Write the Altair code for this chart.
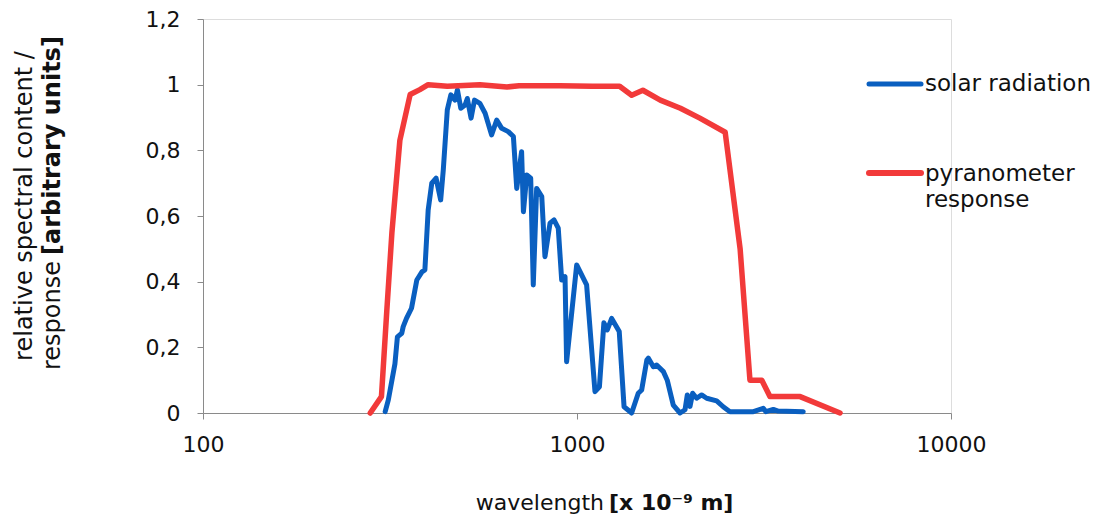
import altair as alt
import pandas as pd

# ---- data ----
solar_wl = [307, 313, 326, 331, 340, 343, 350, 361, 373, 385, 392, 400, 409, 420,
            432, 439, 450, 460, 472, 479, 489, 502, 509, 521, 532, 550, 568, 591,
            610, 629, 655, 676, 690, 711, 719, 734, 752, 764, 780, 805, 821, 847,
            868, 891, 910, 929, 938, 998, 1061, 1117, 1148, 1180, 1205, 1238, 1297,
            1336, 1400, 1458, 1489, 1537, 1552, 1600, 1633, 1702, 1743, 1809, 1886,
            1945, 1972, 2005, 2038, 2089, 2154, 2222, 2363, 2460, 2564, 2961, 3148,
            3200, 3349, 3450, 4027]
solar_val = [0.004, 0.04, 0.15, 0.232, 0.243, 0.263, 0.288, 0.319, 0.405, 0.43,
             0.436, 0.618, 0.70, 0.715, 0.649, 0.74, 0.923, 0.969, 0.953, 0.984,
             0.928, 0.938, 0.958, 0.898, 0.953, 0.943, 0.913, 0.847, 0.892, 0.867,
             0.857, 0.842, 0.684, 0.796, 0.613, 0.725, 0.715, 0.39, 0.684, 0.659,
             0.476, 0.578, 0.588, 0.563, 0.405, 0.415, 0.156, 0.451, 0.39, 0.065,
             0.08, 0.275, 0.253, 0.288, 0.248, 0.019, 0.0, 0.06, 0.07, 0.161, 0.167,
             0.141, 0.146, 0.126, 0.10, 0.024, 0.0, 0.01, 0.055, 0.02, 0.06, 0.045,
             0.055, 0.045, 0.037, 0.019, 0.004, 0.004, 0.014, 0.004, 0.011, 0.006,
             0.004]

pyr_wl = [280, 300, 310, 320, 336, 358, 380, 400, 450, 550, 650, 700, 900, 1100,
          1300, 1400, 1500, 1670, 1890, 2130, 2490, 2730, 2900, 3120, 3280, 3950, 5050]
pyr_val = [0.0, 0.05, 0.31, 0.55, 0.83, 0.97, 0.985, 1.0, 0.995, 1.0, 0.993, 0.997,
           0.997, 0.995, 0.995, 0.968, 0.983, 0.953, 0.928, 0.898, 0.855, 0.5, 0.1,
           0.1, 0.05, 0.05, 0.0]

series_names = ["solar radiation", "pyranometer response"]
series_colors = ["#0a5fc0", "#f23a3a"]
x_ticks = [100, 1000, 10000]
y_ticks = [0, 0.2, 0.4, 0.6, 0.8, 1.0, 1.2]

FONT = "DejaVu Sans"
GREY = "#8a8a8a"

solar_df = pd.DataFrame({"wl": solar_wl, "val": solar_val, "series": series_names[0]})
pyr_df = pd.DataFrame({"wl": pyr_wl, "val": pyr_val, "series": series_names[1]})

x_enc = alt.X("wl:Q",
              scale=alt.Scale(type="log", domain=[100, 10000], nice=False),
              axis=alt.Axis(values=x_ticks, format="d", title=None, grid=False,
                            labelFontSize=22, labelPadding=15, tickSize=6,
                            labelFlush=False, labelOverlap=False,
                            labelColor="#111111", labelFont=FONT,
                            domainColor=GREY, tickColor=GREY))
y_enc = alt.Y("val:Q",
              scale=alt.Scale(domain=[0, 1.2], nice=False),
              axis=alt.Axis(values=y_ticks, title=None, grid=False,
                            labelExpr="replace(format(datum.value, '~g'), '.', ',')",
                            labelFontSize=22, labelPadding=17, tickSize=6,
                            labelFlush=False, labelOverlap=False,
                            labelColor="#111111", labelFont=FONT,
                            domainColor=GREY, tickColor=GREY))

solar_line = alt.Chart(solar_df).mark_line(
    color=series_colors[0], strokeWidth=5, strokeJoin="round", strokeCap="round"
).encode(x=x_enc, y=y_enc)

pyr_line = alt.Chart(pyr_df).mark_line(
    color=series_colors[1], strokeWidth=5.5, strokeJoin="round", strokeCap="round"
).encode(x=x_enc, y=y_enc)


def one(txt):
    return pd.DataFrame({"t": [txt]})


def text_layer(txt, x, y, size=22, bold=False, align="left", angle=0):
    kw = dict(align=align, baseline="middle", fontSize=size, font=FONT,
              fontWeight="bold" if bold else "normal", color="#111111")
    if angle:
        kw["angle"] = angle
    return alt.Chart(one(txt)).mark_text(**kw).encode(
        x=alt.value(x), y=alt.value(y), text="t:N")


# legend (custom, to match the reference layout)
leg_solar_sym = alt.Chart(one(series_names[0])).mark_rule(
    color=series_colors[0], strokeWidth=5, strokeCap="round"
).encode(x=alt.value(666), x2=alt.value(718), y=alt.value(65))
leg_pyr_sym = alt.Chart(one(series_names[1])).mark_rule(
    color=series_colors[1], strokeWidth=6, strokeCap="round"
).encode(x=alt.value(666), x2=alt.value(718), y=alt.value(154))
leg_solar_txt = text_layer("solar radiation", 722, 65, size=23)
leg_pyr_txt1 = text_layer("pyranometer", 722, 155, size=23)
leg_pyr_txt2 = text_layer("response", 722, 181, size=23)

# axis titles
xt1 = text_layer("wavelength", 401, 484, align="right")
xt2 = text_layer("[x 10\u207b\u2079 m]", 406, 484, bold=True)
yt1 = text_layer("relative spectral content /", -178, 187, size=24, align="center", angle=270)
yt2 = text_layer("response", -150, 242, size=24, align="right", angle=270)
yt3 = text_layer("[arbitrary units]", -150, 236, size=24, bold=True, angle=270)

chart = alt.layer(
    solar_line, pyr_line,
    leg_solar_sym, leg_pyr_sym, leg_solar_txt, leg_pyr_txt1, leg_pyr_txt2,
    xt1, xt2, yt1, yt2, yt3,
).properties(
    width=748, height=394,
    padding={"left": 195, "top": 11, "right": 144, "bottom": 104},
    autosize=alt.AutoSizeParams(type="none"),
).configure_view(stroke=None).configure(font=FONT)

chart.save("out.html", embed_options={"renderer": "svg", "actions": False})
